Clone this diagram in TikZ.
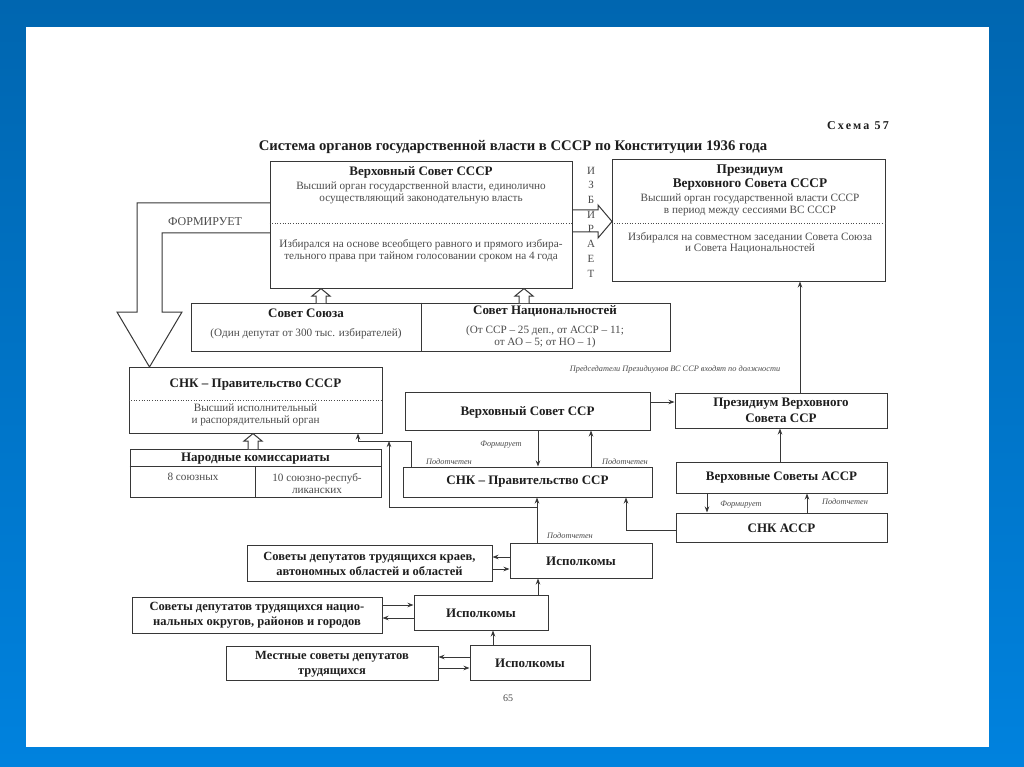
\documentclass[tikz,border=0pt]{standalone}
\usepackage{fontspec}
\setmainfont{Liberation Serif}
\usetikzlibrary{arrows.meta}
\definecolor{bluetop}{RGB}{0,102,176}
\definecolor{bluebot}{RGB}{0,130,222}
\definecolor{linec}{RGB}{55,55,55}
\definecolor{ink}{RGB}{30,30,30}
\definecolor{ink2}{RGB}{75,75,75}
\begin{document}
\begin{tikzpicture}[x=1pt,y=-1pt,
  box/.style={draw=linec, line width=1pt, inner sep=0pt, fill=white},
  ttl/.style={font=\bfseries\fontsize{13}{14}\selectfont, text=ink, align=center, inner sep=0pt},
  sttl/.style={font=\bfseries\fontsize{12.5}{15}\selectfont, text=ink, align=center, inner sep=0pt},
  txt/.style={font=\fontsize{11.2}{11.8}\selectfont, text=ink2, align=center, inner sep=0pt},
  lab/.style={font=\itshape\fontsize{8.3}{9}\selectfont, text=ink2, inner sep=0pt},
  arr/.style={draw=linec, line width=0.8pt, -{Stealth[length=6pt,width=4.5pt]}},
  hollow/.style={draw=linec, line width=1pt, fill=white, line join=miter},
  dots/.style={draw=ink2, line width=0.6pt, dotted}
]
\shade[top color=bluetop,bottom color=bluebot] (0,0) rectangle (1024,767);
\useasboundingbox (0,0) rectangle (1024,767);
\fill[white] (26,27) rectangle (989,747);

% headings
\node[font=\bfseries\fontsize{12}{12}\selectfont\addfontfeatures{LetterSpace=18}, text=ink, anchor=east, inner sep=0pt] (schema) at (889,126) {Схема 57};
\node[font=\bfseries\fontsize{14.7}{14.7}\selectfont, text=ink, inner sep=0pt] (title) at (513,147) {Система органов государственной власти в СССР по Конституции 1936 года};

% big FORMIRUET arrow (behind boxes)
\draw[hollow] (270,203) -- (137,203) -- (137,312) -- (117,312) -- (149.5,367) -- (182,312) -- (162,312) -- (162,233) -- (270,233);
\node[font=\fontsize{12}{12}\selectfont, text=ink2, inner sep=0pt] (form) at (205,222) {ФОРМИРУЕТ};

% IZBIRAET arrow
\draw[hollow] (572,210) -- (598,210) -- (598,205) -- (612,221.5) -- (598,238) -- (598,232) -- (572,232);
\node[font=\fontsize{11}{14.7}\selectfont, text=ink2, align=center, inner sep=0pt] (izb) at (591,222) {И\\З\\Б\\И\\Р\\А\\Е\\Т};

% Verkhovny Sovet SSSR
\node[box, minimum width=302pt, minimum height=126pt] (vs) at (421,225) {};
\node[ttl] (vst) at (421,172) {Верховный Совет СССР};
\node[txt] (vsd) at (421,192.5) {Высший орган государственной власти, единолично\\осуществляющий законодательную власть};
\draw[dots] (vs.west |- 0,223) -- (vs.east |- 0,223);
\node[txt] (vse) at (421,251) {Избирался на основе всеобщего равного и прямого избира-\\тельного права при тайном голосовании сроком на 4 года};

% Presidium SSSR
\node[box, minimum width=273pt, minimum height=121pt] (pr) at (748.5,220.5) {};
\node[ttl, font=\bfseries\fontsize{13.3}{13.5}\selectfont] (prt) at (750,177.5) {Президиум\\Верховного Совета СССР};
\node[txt] (prd) at (750,205) {Высший орган государственной власти СССР\\в период между сессиями ВС СССР};
\draw[dots] (pr.west |- 0,223) -- (pr.east |- 0,223);
\node[txt] (pre) at (750,243) {Избирался на совместном заседании Совета Союза\\и Совета Национальностей};

% Sovet Soyuza / Sovet Natsionalnostey
\node[box, minimum width=479pt, minimum height=48pt] (ss) at (430.5,327) {};
\draw[draw=linec, line width=1pt] (ss.north -| 421,0) -- (ss.south -| 421,0);
\node[ttl] (sst) at (306,313) {Совет Союза};
\node[txt] (ssd) at (306,334) {(Один депутат от 300 тыс. избирателей)};
\node[ttl] (snt) at (545,311) {Совет Национальностей};
\node[txt] (snd) at (545,336.5) {(От ССР – 25 деп., от АССР – 11;\\от АО – 5; от НО – 1)};

% small hollow arrows up
\draw[hollow] (316,303) -- (316,296) -- (312,296) -- (321,288.6) -- (330,296) -- (326,296) -- (326,303);
\draw[hollow] (519,303) -- (519,296) -- (515,296) -- (524,288.6) -- (533,296) -- (529,296) -- (529,303);

% SNK SSSR
\node[box, minimum width=253pt, minimum height=66pt] (snk) at (255.5,400) {};
\node[ttl] (snkt) at (255.5,385) {СНК – Правительство СССР};
\draw[dots] (snk.west |- 0,400) -- (snk.east |- 0,400);
\node[txt] (snkd) at (255.5,415) {Высший исполнительный\\и распорядительный орган};

% Narodnye komissariaty
\node[box, minimum width=251pt, minimum height=48pt] (nk) at (255.5,473) {};
\node[ttl] (nkt) at (255.5,458.5) {Народные комиссариаты};
\draw[draw=linec, line width=0.9pt] (nk.west |- 0,466) -- (nk.east |- 0,466);
\draw[draw=linec, line width=0.9pt] (255,466) -- (nk.south -| 255,0);
\node[txt] (nk1) at (193,477) {8 союзных};
\node[txt] (nk2) at (317,483.5) {10 союзно-респуб-\\ликанских};
\draw[hollow] (248,449) -- (248,441) -- (244,441) -- (253,433.6) -- (262,441) -- (258,441) -- (258,449);

% right column
\node[lab] (pred) at (675,370) {Председатели Президиумов ВС ССР входят по должности};
\node[box, minimum width=245pt, minimum height=38pt] (vsr) at (527.5,411) {};
\node[ttl] (vsrt) at (527.5,412) {Верховный Совет ССР};
\node[box, minimum width=212pt, minimum height=35pt] (prr) at (781,410.5) {};
\node[ttl, font=\bfseries\fontsize{13}{15.5}\selectfont] (prrt) at (781,410.5) {Президиум Верховного\\Совета ССР};
\node[box, minimum width=249pt, minimum height=30pt] (snkr) at (527.5,482) {};
\node[ttl] (snkrt) at (527.5,482) {СНК – Правительство ССР};
\node[box, minimum width=211pt, minimum height=31pt] (vsa) at (781.5,477.5) {};
\node[ttl] (vsat) at (781.5,478) {Верховные Советы АССР};
\node[box, minimum width=211pt, minimum height=29pt] (snka) at (781.5,527.5) {};
\node[ttl] (snkat) at (781.5,528) {СНК АССР};

% lower left
\node[box, minimum width=142pt, minimum height=35pt] (isp1) at (581,560.5) {};
\node[ttl] (isp1t) at (581,561) {Исполкомы};
\node[box, minimum width=245pt, minimum height=36pt] (sk) at (369.5,563) {};
\node[sttl] (skt) at (369.5,563.5) {Советы депутатов трудящихся краев,\\автономных областей и областей};
\node[box, minimum width=134pt, minimum height=35pt] (isp2) at (481,612.5) {};
\node[ttl] (isp2t) at (481,613) {Исполкомы};
\node[box, minimum width=250pt, minimum height=36pt] (sn) at (257,615) {};
\node[sttl] (snt2) at (257,615.5) {Советы депутатов трудящихся нацио-\\нальных округов, районов и городов};
\node[box, minimum width=212pt, minimum height=34pt] (ms) at (332,663) {};
\node[sttl] (mst) at (332,664) {Местные советы депутатов\\трудящихся};
\node[box, minimum width=120pt, minimum height=35pt] (isp3) at (530,662.5) {};
\node[ttl] (isp3t) at (530,663) {Исполкомы};

\node[font=\fontsize{10}{10}\selectfont, text=ink2, inner sep=0pt] (page) at (508,698) {65};

% helper coordinates
\coordinate (x800) at (800,0);
\coordinate (x780) at (780,0);
\coordinate (x707) at (707,0);
\coordinate (x807) at (807,0);
\coordinate (x538) at (538,0);
\coordinate (x591) at (591,0);
\coordinate (x626) at (626,0);
\coordinate (x411) at (411,0);
\coordinate (x358) at (358,0);
\coordinate (x389) at (389,0);
\coordinate (x537) at (537,0);
\coordinate (x493) at (493,0);
\coordinate (y402) at (0,402);
\coordinate (y441) at (0,441);
\coordinate (y507) at (0,507);
\coordinate (y530) at (0,530);
\coordinate (y557) at (0,557);
\coordinate (y569) at (0,569);
\coordinate (y605) at (0,605);
\coordinate (y618) at (0,618);
\coordinate (y657) at (0,657);
\coordinate (y668) at (0,668);

% connectors
\draw[arr] (prr.north -| x800) -- (pr.south -| x800);
\draw[arr] (vsr.east |- y402) -- (prr.west |- y402);
\draw[arr] (vsr.south -| x538) -- (snkr.north -| x538);
\node[lab] (f1) at (501,445) {Формирует};
\draw[arr] (snkr.north -| x591) -- (vsr.south -| x591);
\node[lab] (p1) at (625,462) {Подотчетен};
\draw[arr] (vsa.north -| x780) -- (prr.south -| x780);
\draw[arr] (vsa.south -| x707) -- (snka.north -| x707);
\node[lab] (f2) at (741,505) {Формирует};
\draw[arr] (snka.north -| x807) -- (vsa.south -| x807);
\node[lab] (p2) at (845,502) {Подотчетен};
\draw[arr] (snka.west |- y530) -- (x626 |- y530) -- (snkr.south -| x626);
\draw[arr] (snkr.north -| x411) -- (x411 |- y441) -- (x358 |- y441) -- (snk.south -| x358);
\node[lab] (p3) at (449,462) {Подотчетен};
\draw[arr] (isp1.north -| x537) -- (snkr.south -| x537);
\draw[arr] (x537 |- y507) -- (x389 |- y507) -- (x389 |- y441);
\node[lab] (p4) at (570,536) {Подотчетен};
\draw[arr] (isp1.west |- y557) -- (sk.east |- y557);
\draw[arr] (sk.east |- y569) -- (isp1.west |- y569);
\draw[arr] (isp2.north -| x538) -- (isp1.south -| x538);
\draw[arr] (sn.east |- y605) -- (isp2.west |- y605);
\draw[arr] (isp2.west |- y618) -- (sn.east |- y618);
\draw[arr] (isp3.north -| x493) -- (isp2.south -| x493);
\draw[arr] (isp3.west |- y657) -- (ms.east |- y657);
\draw[arr] (ms.east |- y668) -- (isp3.west |- y668);
\end{tikzpicture}
\end{document}
